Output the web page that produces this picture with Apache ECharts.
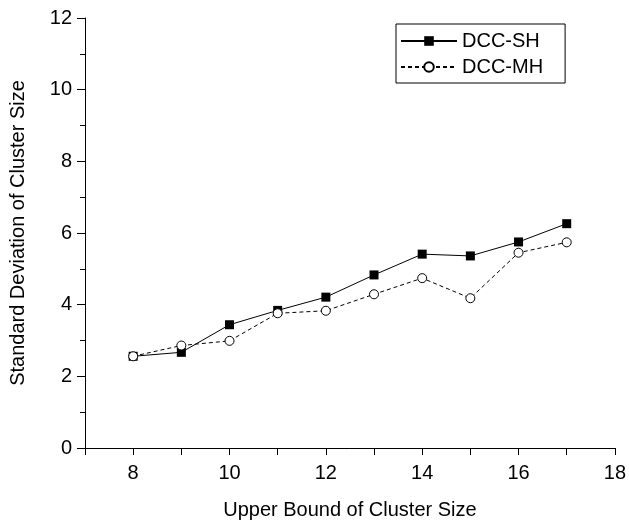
<!DOCTYPE html>
<html>
<head>
<meta charset="utf-8">
<script src="https://cdn.jsdelivr.net/npm/echarts@6/dist/echarts.min.js"></script>
<style>html,body{margin:0;padding:0;background:#fff;}#chart{width:629px;height:525px;}</style>
</head>
<body>
<div id="chart"></div>
<script>
var upperBound = [8, 9, 10, 11, 12, 13, 14, 15, 16, 17];
var dccSH = [2.56, 2.67, 3.44, 3.84, 4.21, 4.83, 5.41, 5.36, 5.75, 6.26];
var dccMH = [2.56, 2.86, 2.99, 3.76, 3.83, 4.29, 4.74, 4.18, 5.45, 5.74];
var xLabelsShown = [8, 10, 12, 14, 16, 18];
var seriesNames = ['DCC-SH', 'DCC-MH'];

function pairs(xs, ys) { return xs.map(function (x, i) { return [x, ys[i]]; }); }

var font = 'Liberation Sans, Arial, sans-serif';
var chart = echarts.init(document.getElementById('chart'), null, {renderer: 'canvas'});
chart.setOption({
  animation: false,
  backgroundColor: '#fff',
  textStyle: {fontFamily: font, color: '#000'},
  grid: {left: 83, right: 12, top: 18, bottom: 76, containLabel: false},
  legend: {
    orient: 'vertical', left: 396, top: 24,
    padding: [7, 22, 6, 4], itemGap: 6,
    borderColor: '#000', borderWidth: 1, backgroundColor: '#fff',
    itemWidth: 56, itemHeight: 12,
    textStyle: {fontFamily: font, fontSize: 20, color: '#000'},
    data: seriesNames
  },
  xAxis: {
    type: 'value', min: 7, max: 18, interval: 1,
    name: 'Upper Bound of Cluster Size', nameLocation: 'middle', nameGap: 52,
    nameTextStyle: {fontFamily: font, fontSize: 20, color: '#000'},
    axisLine: {show: true, onZero: false, lineStyle: {color: '#000', width: 1}},
    axisTick: {show: true, inside: false, length: 7, lineStyle: {color: '#000'}},
    axisLabel: {
      fontFamily: font, fontSize: 20, color: '#000', margin: 15,
      formatter: function (v) { return xLabelsShown.indexOf(v) >= 0 ? String(v) : ''; }
    },
    splitLine: {show: false}
  },
  yAxis: {
    type: 'value', min: 0, max: 12, interval: 2,
    name: 'Standard Deviation of Cluster Size', nameLocation: 'middle', nameGap: 57,
    nameTextStyle: {fontFamily: font, fontSize: 20, color: '#000'},
    axisLine: {show: true, lineStyle: {color: '#000', width: 1}},
    axisTick: {show: true, inside: false, length: 8, lineStyle: {color: '#000'}},
    minorTick: {show: true, splitNumber: 2, length: 5, lineStyle: {color: '#000'}},
    axisLabel: {fontFamily: font, fontSize: 20, color: '#000', margin: 13},
    splitLine: {show: false}
  },
  series: [
    {
      name: seriesNames[0], type: 'line', data: pairs(upperBound, dccSH),
      symbol: 'rect', symbolSize: 9,
      lineStyle: {color: '#000', width: 1, type: 'solid'},
      itemStyle: {color: '#000', borderColor: '#000', borderWidth: 0},
      z: 3
    },
    {
      name: seriesNames[1], type: 'line', data: pairs(upperBound, dccMH),
      symbol: 'circle', symbolSize: 9,
      lineStyle: {color: '#000', width: 1, type: [4, 3]},
      itemStyle: {color: '#fff', borderColor: '#000', borderWidth: 1},
      z: 4
    }
  ]
});
</script>
</body>
</html>
